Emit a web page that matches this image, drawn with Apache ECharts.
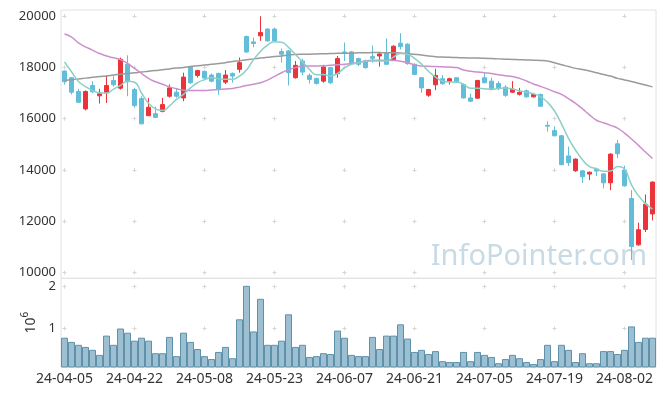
<!DOCTYPE html>
<html><head><meta charset="utf-8">
<script src="https://cdn.jsdelivr.net/npm/echarts@6/dist/echarts.min.js"></script>
<style>html,body{margin:0;padding:0;background:#fff}#c{width:665px;height:396px}</style>
</head><body><div id="c"></div>
<script>
const dates = ['24-04-05','24-04-08','24-04-09','24-04-11','24-04-12','24-04-15','24-04-16','24-04-17','24-04-18','24-04-19',
'24-04-22','24-04-23','24-04-24','24-04-25','24-04-26','24-04-29','24-04-30','24-05-02','24-05-03','24-05-07',
'24-05-08','24-05-09','24-05-10','24-05-13','24-05-14','24-05-16','24-05-17','24-05-20','24-05-21','24-05-22',
'24-05-23','24-05-24','24-05-27','24-05-28','24-05-29','24-05-30','24-05-31','24-06-03','24-06-04','24-06-05',
'24-06-07','24-06-10','24-06-11','24-06-12','24-06-13','24-06-14','24-06-17','24-06-18','24-06-19','24-06-20',
'24-06-21','24-06-24','24-06-25','24-06-26','24-06-27','24-06-28','24-07-01','24-07-02','24-07-03','24-07-04',
'24-07-05','24-07-08','24-07-09','24-07-10','24-07-11','24-07-12','24-07-15','24-07-16','24-07-17','24-07-18',
'24-07-19','24-07-22','24-07-23','24-07-24','24-07-25','24-07-26','24-07-29','24-07-30','24-07-31','24-08-01',
'24-08-02','24-08-05','24-08-06','24-08-07','24-08-08'];

const opens = [17855,17596,17059,16380,17294,16890,17007,17490,17188,18118,
17137,16783,16118,16196,16286,16875,17031,16810,18027,17686,
17843,17700,17765,17424,17765,17922,19200,18992,19227,19490,
19490,18616,18640,17596,18247,17686,17569,17463,17988,17753,
18600,18600,18340,18247,18418,18443,18576,18300,18941,18902,
18118,17596,16914,17321,17557,17463,17596,17333,16810,16800,
17596,17463,17373,17228,17031,16950,17085,16850,16941,15740,
15535,15333,14549,13973,13967,13843,14027,13850,13502,15020,
14000,12890,11086,11686,12290];
const closes = [17439,17031,16639,17059,17047,16969,17294,17321,18314,17439,
16510,15800,16443,16050,16549,17200,16875,17620,17400,17880,
17581,17463,17137,17700,17660,18183,18600,18929,19359,19031,
19031,18510,17792,18078,17816,17529,17373,18012,17400,18340,
18537,18183,18118,17988,18353,18522,18118,18824,18810,18145,
17725,17200,17137,17686,17360,17557,17424,16810,16680,17490,
17400,17176,17210,16910,17150,17031,16850,16941,16484,15710,
15333,14210,14288,14425,13737,13915,13961,13502,14620,14635,
13384,11020,11674,12667,13530];
const lows = [17330,16940,16620,16325,17000,16590,16615,17250,17130,16875,
16430,15780,16100,16030,16247,16820,16820,16680,17350,17600,
17500,17420,16930,17350,17400,17792,18560,18780,19031,19000,
19000,18184,17294,17560,17700,17373,17330,17400,17350,17596,
18247,18150,18050,17950,18183,18027,18100,18280,18700,18100,
17700,17007,16850,17110,17330,17330,17400,16790,16650,16780,
17380,17110,17110,16850,17000,16900,16820,16830,16460,15502,
15310,14180,14157,13930,13502,13608,13765,13282,13216,14457,
13350,10497,11050,11581,12039];
const highs = [17880,17620,17165,17100,17460,17165,17690,17660,18380,18470,
17200,16875,16810,16470,16810,17333,17200,17792,18060,17900,
17880,17760,17790,17895,17800,18380,19240,19163,19988,19520,
19550,18733,18680,18247,18340,17760,17600,18100,18020,18443,
18967,18640,18380,18300,18850,18600,19125,18860,19333,18940,
18150,17620,17160,17947,17700,17600,17620,17360,16968,17510,
17765,17596,17463,17300,17463,17200,17140,16980,16980,15894,
15700,15360,14915,14450,13990,13940,14090,13880,14650,15176,
14170,13216,11948,13047,13560];
const volumes = [780000,680000,610000,560000,490000,370000,830000,610000,1000000,900000,
710000,780000,710000,410000,410000,800000,340000,900000,680000,510000,
340000,270000,440000,560000,290000,1220000,2020000,930000,1710000,610000,
610000,710000,1340000,560000,610000,320000,340000,410000,390000,950000,
780000,370000,340000,340000,800000,510000,830000,830000,1100000,760000,
440000,490000,390000,460000,220000,200000,200000,440000,220000,440000,
370000,320000,170000,270000,370000,290000,200000,150000,270000,610000,
220000,610000,490000,200000,410000,170000,170000,460000,460000,390000,
490000,1050000,680000,780000,780000];
const ma5 = [18208,17830,17450,17250,17100,17010,17000,17150,17300,17460,
17420,17000,16600,16380,16320,16500,16750,16950,17200,17400,
17520,17590,17560,17540,17540,17660,17900,18300,18620,18870,
19000,18980,18780,18500,18220,17920,17710,17720,17660,17760,
17980,18120,18180,18240,18250,18250,18250,18400,18540,18510,
18350,18130,17850,17620,17470,17430,17430,17340,17190,17190,
17170,17140,17180,17200,17160,17090,17030,16970,16860,16640,
16300,15800,15230,14780,14400,14130,14050,13950,13960,14140,
14040,13420,13000,12690,12480];
const ma20 = [19300,19180,18950,18800,18670,18540,18440,18370,18300,18150,
17960,17760,17570,17440,17340,17240,17170,17110,17100,17095,
17100,17120,17140,17160,17180,17230,17290,17340,17400,17500,
17650,17790,17900,17990,18050,18055,18055,18060,18080,18100,
18120,18150,18190,18250,18275,18280,18280,18270,18240,18180,
18100,18050,18040,18030,18020,18010,17990,17900,17850,17820,
17790,17760,17710,17670,17640,17570,17470,17350,17260,17160,
17050,16950,16780,16600,16380,16150,15940,15840,15740,15630,
15440,15210,14960,14700,14450];
const ma60 = [17490,17520,17545,17580,17610,17640,17665,17700,17730,17760,
17790,17815,17850,17880,17905,17940,17970,17995,18030,18060,
18090,18120,18150,18180,18230,18260,18300,18330,18360,18390,
18420,18440,18480,18500,18510,18515,18520,18530,18540,18545,
18550,18555,18565,18570,18575,18575,18570,18565,18555,18540,
18510,18480,18440,18415,18400,18390,18380,18370,18365,18360,
18350,18340,18330,18320,18310,18300,18290,18280,18270,18250,
18180,18100,18030,17960,17920,17860,17790,17720,17660,17570,
17510,17450,17380,17310,17240];
const priceTicks = [10000,12000,14000,16000,18000,20000];
const volumeTicks = [1000000,2000000];
const labelColumns = [0,10,20,30,40,50,60,70,80];

const UP = '#ec3339', DOWN = '#62bdd8';
const gridColor = '#e2e2e2', crossColor = '#d6d6d6';
const FONT = '"Noto Sans", sans-serif';

const chart = echarts.init(document.getElementById('c'), null, {renderer: 'canvas'});
chart.setOption({
  animation: false,
  backgroundColor: '#fff',
  graphic: [{
    type: 'text', right: 18, top: 242, z: 1, silent: true,
    style: {text: 'InfoPointer.com', font: '29px "Noto Sans", sans-serif', fill: '#c7dae5'}
  }],
  grid: [
    {left: 61, width: 595, top: 10, height: 268.3, show: true, borderColor: gridColor, borderWidth: 1, backgroundColor: 'transparent'},
    {left: 61, width: 595, top: 278.3, height: 88.7, show: true, borderColor: gridColor, borderWidth: 1, backgroundColor: 'transparent'}
  ],
  xAxis: [
    {type: 'category', gridIndex: 0, data: dates, boundaryGap: true, show: false},
    {type: 'category', gridIndex: 1, data: dates, boundaryGap: true,
     axisLine: {show: false}, axisTick: {show: false}, splitLine: {show: false},
     axisLabel: {interval: 9, fontSize: 14, color: '#333', margin: 5, fontFamily: FONT}},
    {type: 'value', gridIndex: 0, min: -0.5, max: dates.length - 0.5,
     axisLine: {show: false}, axisLabel: {show: false},
     axisTick: {show: false, customValues: labelColumns},
     splitLine: {show: true, lineStyle: {color: crossColor, width: 1, type: [4, 47.34], dashOffset: 47.34}}},
    {type: 'value', gridIndex: 1, min: -0.5, max: dates.length - 0.5,
     axisLine: {show: false}, axisLabel: {show: false},
     axisTick: {show: false, customValues: labelColumns},
     splitLine: {show: true, lineStyle: {color: crossColor, width: 1, type: [4, 37.84], dashOffset: 35.47}}}
  ],
  yAxis: [
    {type: 'value', gridIndex: 0, min: 9782, max: 20234, scale: true,
     axisLine: {show: false},
     axisTick: {show: false, customValues: priceTicks},
     axisLabel: {customValues: priceTicks, fontSize: 13, color: '#333', margin: 5, fontFamily: FONT,
                 formatter: v => String(v)},
     splitLine: {show: true, lineStyle: {color: crossColor, width: 1, type: [4, 66], dashOffset: 68.5}}},
    {type: 'value', gridIndex: 1, min: 80000, max: 2200000,
     axisLine: {show: false},
     axisTick: {show: false, customValues: volumeTicks},
     axisLabel: {customValues: volumeTicks, fontSize: 13, color: '#333', margin: 5, fontFamily: FONT,
                 formatter: v => String(Math.round(v / 1e6))},
     splitLine: {show: true, lineStyle: {color: crossColor, width: 1, type: [4, 66], dashOffset: 68.5}},
     name: '{a|10}{b|6}', nameLocation: 'middle', nameRotate: 90, nameGap: 22,
     nameTextStyle: {color: '#333', fontFamily: FONT,
       rich: {a: {fontSize: 14, color: '#333', fontFamily: FONT, lineHeight: 18, verticalAlign: 'bottom'},
              b: {fontSize: 10, color: '#333', fontFamily: FONT, lineHeight: 18, verticalAlign: 'top', padding: [0, 0, 6, 0]}}}}
  ],
  series: [
    {type: 'candlestick', xAxisIndex: 0, yAxisIndex: 0, barWidth: 5,
     data: dates.map((d, i) => [opens[i], closes[i], lows[i], highs[i]]),
     itemStyle: {color: UP, color0: DOWN, borderColor: UP, borderColor0: DOWN, borderWidth: 1}},
    {type: 'line', name: 'MA60', xAxisIndex: 0, yAxisIndex: 0, data: ma60, symbol: 'none', smooth: true,
     lineStyle: {color: '#9a9a9a', width: 1.5}},
    {type: 'line', name: 'MA20', xAxisIndex: 0, yAxisIndex: 0, data: ma20, symbol: 'none', smooth: true,
     lineStyle: {color: '#cc8fcc', width: 1.5}},
    {type: 'line', name: 'MA5', xAxisIndex: 0, yAxisIndex: 0, data: ma5, symbol: 'none', smooth: true,
     lineStyle: {color: '#8dcfc6', width: 1.5}},
    {type: 'bar', xAxisIndex: 1, yAxisIndex: 1, data: volumes, barCategoryGap: '0%',
     itemStyle: {color: '#9cc0d1', borderColor: '#5f91aa', borderWidth: 1}}
  ]
});
</script>
</body></html>
